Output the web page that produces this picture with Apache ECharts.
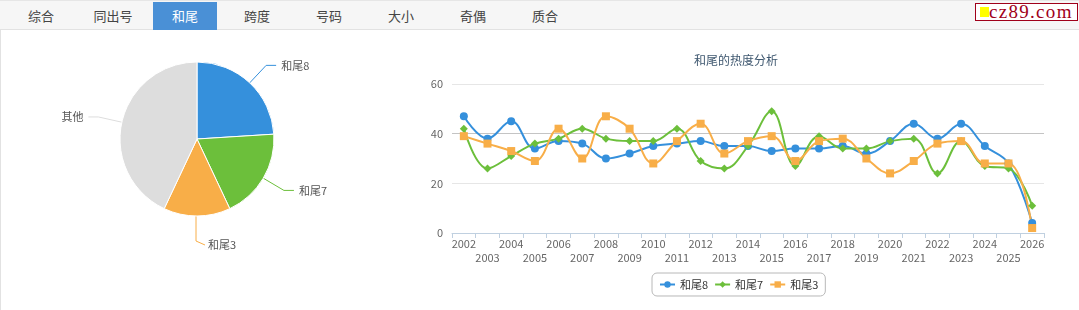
<!DOCTYPE html>
<html>
<head>
<meta charset="utf-8">
<script src="https://cdn.jsdelivr.net/npm/echarts@6/dist/echarts.min.js"></script>
<style>
  html, body { margin: 0; padding: 0; background: #fff; }
  body { width: 1079px; height: 310px; position: relative; overflow: hidden; font-family: "Noto Sans CJK SC", "Noto Sans", sans-serif; }
  #bar { position: absolute; left: 0; top: 0; width: 1079px; height: 30px; background: #f6f6f6; border-top: 1px solid #e6e6e6; border-bottom: 1px solid #e2e2e2; box-sizing: border-box; }
  .tab { position: absolute; top: 1px; width: 64px; height: 28px; line-height: 28px; text-align: center; font-size: 13px; color: #444; }
  .tab.active { background: #4a90d6; color: #fff; }
  #lborder { position: absolute; left: 0; top: 30px; width: 1px; height: 280px; background: #e2e2e2; }
  #logo { position: absolute; left: 975px; top: 3px; width: 101px; height: 16px; border: 1px solid #a0001a; background: #fff; }
  #logo .sq { position: absolute; left: 4px; top: 3px; width: 9px; height: 10px; background: #ffff00; }
  #logo .tx { position: absolute; left: 13px; top: -3px; font-family: "Liberation Serif", "DejaVu Serif", serif; font-size: 19px; color: #a0001a; letter-spacing: 1.3px; line-height: 22px; }
  #chart { position: absolute; left: 0; top: 31px; width: 1079px; height: 279px; }
</style>
</head>
<body>
<div id="bar"></div>
<div id="lborder"></div>
<div id="logo"><div class="sq"></div><div class="tx">cz89.com</div></div>
<div id="chart"></div>
<script>
// ---- data ----
const tabs = ['综合', '同出号', '和尾', '跨度', '号码', '大小', '奇偶', '质合'];
const activeTab = '和尾';
const years = ['2002','2003','2004','2005','2006','2007','2008','2009','2010','2011','2012','2013','2014','2015','2016','2017','2018','2019','2020','2021','2022','2023','2024','2025','2026'];
const tail8 = [47, 38, 45, 34, 37, 36, 30, 32, 35, 36, 37, 35, 35, 33, 34, 34, 35, 32, 37, 44, 38, 44, 35, 28, 4];
const tail7 = [42, 26, 31, 36, 38, 42, 38, 37, 37, 42, 29, 26, 35, 49, 27, 39, 34, 34, 37, 38, 24, 37, 27, 26, 11];
const tail3 = [39, 36, 33, 29, 42, 30, 47, 42, 28, 37, 44, 32, 37, 39, 29, 37, 38, 30, 24, 29, 36, 37, 28, 28, 2];
const pieNames = ['和尾8', '和尾7', '和尾3', '其他'];
const pieValues = [24, 19, 14, 43];
const yTicks = [0, 20, 40, 60];
const chartTitle = '和尾的热度分析';

// ---- tabs ----
const bar = document.getElementById('bar');
tabs.forEach((t, i) => {
  const d = document.createElement('div');
  d.className = 'tab' + (t === activeTab ? ' active' : '');
  d.style.left = (9 + 72 * i) + 'px';
  d.textContent = t;
  bar.appendChild(d);
});

// ---- chart ----
const colors = ['#3590dc', '#6cbf3b', '#f8ae48', '#dddddd'];
const off = 31; // chart top offset
const chart = echarts.init(document.getElementById('chart'), null, { renderer: 'canvas' });
const font = '"Noto Sans CJK SC", "Noto Sans", sans-serif';
chart.setOption({
  animation: false,
  textStyle: { fontFamily: font },
  graphic: [{
    type: 'text', left: 738 - 44, top: 62 - off - 8,
    style: { text: chartTitle, fill: '#3e576f', font: '12px ' + font }
  }],
  legend: {
    data: ['和尾8', '和尾7', '和尾3'],
    left: 652, top: 273 - off,
    borderColor: '#b8b8b8', borderWidth: 1, borderRadius: 5,
    padding: [6, 7, 6, 7], itemGap: 6, itemWidth: 15, itemHeight: 8,
    textStyle: { color: '#333', fontSize: 11, fontFamily: font }
  },
  grid: { left: 452, right: 35, top: 84 - off, bottom: 310 - 233, containLabel: false },
  xAxis: {
    type: 'category', data: years, boundaryGap: true,
    axisLine: { lineStyle: { color: '#c0d0e0' } },
    axisTick: { show: true, alignWithLabel: false, length: 5, lineStyle: { color: '#c0d0e0' } },
    axisLabel: {
      interval: 0, color: '#666', fontSize: 11, margin: 4, lineHeight: 14,
      formatter: (v, i) => (i % 2 ? '\n' + v : v)
    }
  },
  yAxis: {
    type: 'value', min: yTicks[0], max: yTicks[yTicks.length - 1], interval: 20,
    axisLine: { show: false }, axisTick: { show: false },
    axisLabel: { color: '#666', fontSize: 11, margin: 9 },
    splitLine: { lineStyle: { color: ['#e6e6e6', '#e6e6e6', '#c4c4c4', '#e6e6e6'], width: 1 } }
  },
  series: [
    {
      name: '和尾8', type: 'line', data: tail8, smooth: 0.4,
      symbol: 'circle', symbolSize: 8,
      itemStyle: { color: colors[0] }, lineStyle: { width: 2, color: colors[0] }
    },
    {
      name: '和尾7', type: 'line', data: tail7, smooth: 0.4,
      symbol: 'diamond', symbolSize: 8,
      itemStyle: { color: colors[1] }, lineStyle: { width: 2, color: colors[1] }
    },
    {
      name: '和尾3', type: 'line', data: tail3, smooth: 0.4,
      symbol: 'rect', symbolSize: 8,
      itemStyle: { color: colors[2] }, lineStyle: { width: 2, color: colors[2] }
    },
    {
      name: 'pie', type: 'pie', center: [197, 139 - off], radius: 77,
      startAngle: 90, clockwise: true,
      data: pieNames.map((n, i) => ({ name: n, value: pieValues[i], itemStyle: { color: colors[i] } })),
      itemStyle: { borderColor: '#fff', borderWidth: 1 },
      label: { color: '#555', fontSize: 11, fontFamily: font },
      labelLine: { length: 24, length2: 10, lineStyle: { width: 1 } },
      labelLayout: function (p) {
        if (p.dataIndex === 2) {
          return {
            x: 208, y: 245 - off, align: 'left', verticalAlign: 'middle',
            labelLinePoints: [[196, 216 - off], [196, 241 - off], [205, 245 - off]]
          };
        }
        return {};
      },
      emphasis: { disabled: true }
    }
  ]
});
</script>
</body>
</html>
